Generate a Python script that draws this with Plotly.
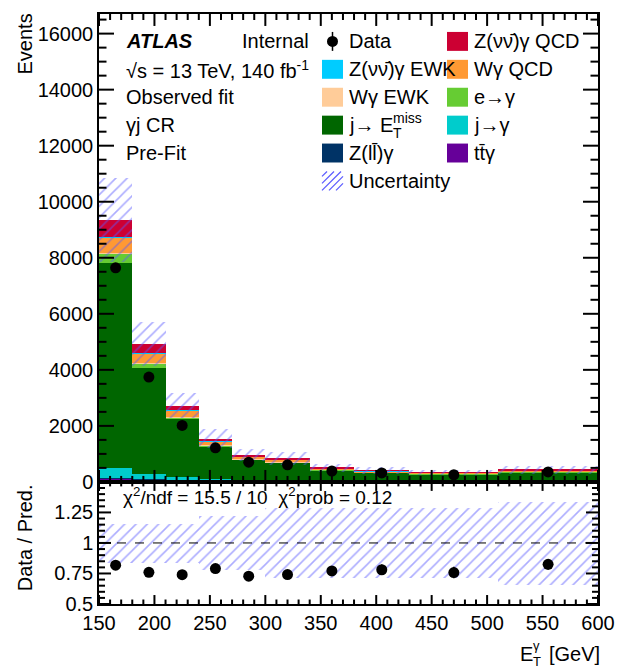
import plotly.graph_objects as go

# ---------------- data ----------------
bin_edges = [150, 180, 210, 240, 270, 300, 340, 380, 430, 510, 600]
ttgamma = [110, 70, 40, 25, 15, 14, 10, 8, 8, 9]
zll_gamma = [40, 20, 12, 8, 5, 4, 3, 2, 2, 2]
j_to_gamma = [340, 200, 120, 56, 30, 25, 15, 10, 8, 8]
j_to_met = [7320, 3770, 2070, 1163, 742, 642, 386, 316, 259, 332]
e_to_gamma = [335, 155, 72, 40, 25, 20, 13, 10, 8, 9]
wg_ewk = [40, 25, 15, 10, 8, 7, 5, 4, 4, 6]
wg_qcd = [550, 355, 223, 154, 84, 70, 45, 38, 32, 45]
znn_ewk = [20, 10, 7, 5, 3, 3, 3, 2, 2, 3]
znn_qcd = [590, 320, 165, 77, 57, 41, 26, 20, 15, 20]
data = [7640, 3740, 2015, 1215, 705, 612, 390, 320, 256, 358]
data_err = [87, 61, 45, 35, 27, 25, 20, 18, 16, 19]
rel_unc = [0.16, 0.16, 0.16, 0.22, 0.22, 0.29, 0.29, 0.29, 0.29, 0.34]

main_yticks = [0, 2000, 4000, 6000, 8000, 10000, 12000, 14000, 16000]
main_yticktext = ["0", "2000", "4000", "6000", "8000", "10000", "12000", "14000", "16000"]
ratio_yticks = [0.5, 0.75, 1, 1.25]
ratio_yticktext = ["0.5", "0.75", "1", "1.25"]
xticks = [150, 200, 250, 300, 350, 400, 450, 500, 550, 600]
xticktext = ["150", "200", "250", "300", "350", "400", "450", "500", "550", "600"]

FONT = "Liberation Sans, Arial, sans-serif"
W, H = 630, 671
L, R, T, B = 99, 598, 12, 604
SPLIT = 481.5
PW, PH = R - L, B - T
XMIN, XMAX = 150, 600
YMAIN_MAX = 16700
RMIN, RMAX = 0.5, 1.5

def px(x):
    return (x - L) / PW

def py(y):
    return (B - y) / PH

centers = [(a + b) / 2 for a, b in zip(bin_edges[:-1], bin_edges[1:])]
widths = [b - a for a, b in zip(bin_edges[:-1], bin_edges[1:])]

components = [
    ("tt̄γ", ttgamma, "#660099"),
    ("Z(ll̄)γ", zll_gamma, "#003366"),
    ("j→γ", j_to_gamma, "#00cccc"),
    ("j→ E_T^miss", j_to_met, "#006600"),
    ("e→γ", e_to_gamma, "#66cc33"),
    ("Wγ EWK", wg_ewk, "#ffcc99"),
    ("Wγ QCD", wg_qcd, "#ff9933"),
    ("Z(νν̄)γ EWK", znn_ewk, "#00ccff"),
    ("Z(νν̄)γ QCD", znn_qcd, "#cc0033"),
]

fig = go.Figure()
cum = [0.0] * len(centers)
for name, vals, color in components:
    fig.add_trace(go.Bar(
        x=centers, y=vals, base=list(cum), width=widths, name=name,
        marker=dict(color=color, line=dict(width=0)),
        xaxis="x", yaxis="y", showlegend=False))
    cum = [c + v for c, v in zip(cum, vals)]
total = cum

HATCH_COLOR = "#5a5aff"
hatch = dict(shape="/", fgcolor=HATCH_COLOR, size=8, solidity=0.2, fillmode="overlay")
fig.add_trace(go.Bar(
    x=centers, y=[2 * u * t for u, t in zip(rel_unc, total)],
    base=[t * (1 - u) for u, t in zip(rel_unc, total)], width=widths,
    marker=dict(color="rgba(0,0,0,0)", line=dict(width=0), pattern=hatch),
    xaxis="x", yaxis="y", showlegend=False, name="Uncertainty"))

fig.add_trace(go.Scatter(
    x=centers, y=data, mode="markers",
    marker=dict(color="black", size=11),
    error_y=dict(type="data", array=data_err, color="black", thickness=1.5, width=0),
    xaxis="x", yaxis="y", showlegend=False, name="Data"))

fig.add_trace(go.Bar(
    x=centers, y=[2 * u for u in rel_unc], base=[1 - u for u in rel_unc], width=widths,
    marker=dict(color="rgba(0,0,0,0)", line=dict(width=0), pattern=hatch),
    xaxis="x2", yaxis="y2", showlegend=False))
ratio = [d / t for d, t in zip(data, total)]
ratio_err = [e / t for e, t in zip(data_err, total)]
fig.add_trace(go.Scatter(
    x=centers, y=ratio, mode="markers",
    marker=dict(color="black", size=11),
    error_y=dict(type="data", array=ratio_err, color="black", thickness=1.5, width=0),
    xaxis="x2", yaxis="y2", showlegend=False))

split_frac = (B - SPLIT) / PH
main_h_px = (1 - split_frac) * PH
ratio_h_px = split_frac * PH

# ---------- tick marks drawn as a line trace per panel (axis decoration) ----------
x_minor = [v for v in range(150, 601, 10) if v % 50 != 0]
main_y_minor = [v for v in range(0, 16701, 500) if v % 2000 != 0]
ratio_y_minor = [round(0.5 + 0.05 * i, 2) for i in range(21) if i % 5 != 0]
ratio_y_major = [0.5, 0.75, 1.0, 1.25, 1.5]

def tick_trace(ymin, ymax, hpx, ymaj, ymin_list, ylen, xlen, xaxis, yaxis):
    dxp = (XMAX - XMIN) / PW
    dyp = (ymax - ymin) / hpx
    xs, ys = [], []
    for vals, ln in ((ymaj, ylen[0]), (ymin_list, ylen[1])):
        for v in vals:
            xs += [XMIN, XMIN + ln * dxp, None, XMAX, XMAX - ln * dxp, None]
            ys += [v, v, None, v, v, None]
    for vals, ln in ((xticks, xlen[0]), (x_minor, xlen[1])):
        for v in vals:
            xs += [v, v, None, v, v, None]
            ys += [ymin, ymin + ln * dyp, None, ymax, ymax - ln * dyp, None]
    fig.add_trace(go.Scatter(x=xs, y=ys, mode="lines", line=dict(color="black", width=2),
                             connectgaps=False, hoverinfo="skip", showlegend=False,
                             xaxis=xaxis, yaxis=yaxis, cliponaxis=False))

tick_trace(0, YMAIN_MAX, main_h_px, main_yticks, main_y_minor, (15, 7.5), (12, 6), "x", "y")
tick_trace(RMIN, RMAX, ratio_h_px, ratio_y_major, ratio_y_minor, (12, 6), (9, 4.5), "x2", "y2")

shapes = []
annotations = []

shapes.append(dict(type="line", xref="x2", yref="y2", x0=150, x1=600, y0=1, y1=1,
                   line=dict(color="black", width=1, dash="dash"), layer="above"))

def text(x, y, s, size=20, anchor="left", color="black", angle=0, yanchor="middle"):
    annotations.append(dict(x=px(x), y=py(y), xref="paper", yref="paper", text=s,
                            showarrow=False, xanchor=anchor, yanchor=yanchor,
                            textangle=angle,
                            font=dict(family=FONT, size=size, color=color)))

rows = [39.5, 67.5, 95.5, 123.5, 151.5, 179.5]
text(124, rows[0], "<b><i>ATLAS</i></b>")
text(240, rows[0], "Internal")
text(124, rows[1], "√s = 13 TeV, 140 fb<sup>-1</sup>")
text(124, rows[2], "Observed fit")
text(124, rows[3], "γj CR")
text(124, rows[4], "Pre-Fit")

def box(x0, yc, color):
    shapes.append(dict(type="rect", xref="paper", yref="paper",
                       x0=px(x0), x1=px(x0 + 21), y0=py(yc + 9.5), y1=py(yc - 9.5),
                       fillcolor=color, line=dict(width=0), layer="above"))

colors = {n: c for n, _, c in components}
lx, rx = 322, 447
shapes.append(dict(type="line", xref="paper", yref="paper", x0=px(332.5), x1=px(332.5),
                   y0=py(rows[0] - 9.5), y1=py(rows[0] + 9.5), line=dict(color="black", width=1.5)))
shapes.append(dict(type="circle", xref="paper", yref="paper", x0=px(327), x1=px(338),
                   y0=py(rows[0] + 5.5), y1=py(rows[0] - 5.5), fillcolor="black",
                   line=dict(width=0)))
text(347, rows[0], "Data")
box(rx, rows[0], colors["Z(νν̄)γ QCD"]); text(472, rows[0], "Z(νν̄)γ QCD")
text(347, rows[1], "Z(νν̄)γ EWK")
box(lx, rows[1], colors["Z(νν̄)γ EWK"])
box(rx, rows[1], colors["Wγ QCD"]); text(472, rows[1], "Wγ QCD")
box(lx, rows[2], colors["Wγ EWK"]); text(347, rows[2], "Wγ EWK")
box(rx, rows[2], colors["e→γ"]); text(472, rows[2], "e→γ")
box(lx, rows[3], colors["j→ E_T^miss"]); text(347, rows[3], "j→ E")
text(391, rows[3] - 7, "miss", size=14)
text(391, rows[3] + 8, "T", size=14)
box(rx, rows[3], colors["j→γ"]); text(472, rows[3], "j→γ")
box(lx, rows[4], colors["Z(ll̄)γ"]); text(347, rows[4], "Z(ll̄)γ")
box(rx, rows[4], colors["tt̄γ"]); text(472, rows[4], "tt̄γ")
x0, x1b = lx, lx + 21
ybot, ytop = rows[5] + 9.5, rows[5] - 9.5
hgt = ybot - ytop
for s in [-14, -7, 0, 7, 14]:
    t0 = max(0, -s)
    t1 = min(hgt, (x1b - x0) - s)
    if t1 > t0:
        shapes.append(dict(type="line", xref="paper", yref="paper",
                           x0=px(x0 + s + t0), y0=py(ybot - t0),
                           x1=px(x0 + s + t1), y1=py(ybot - t1),
                           line=dict(color=HATCH_COLOR, width=1.2)))
text(347, rows[5], "Uncertainty")

text(121, 496, "χ<sup>2</sup>/ndf = 15.5 / 10 &nbsp;χ<sup>2</sup>prob = 0.12", size=19)

text(25, 10, "Events", angle=-90, anchor="center", yanchor="top")
text(25, 538, "Data / Pred.", angle=-90, anchor="center")
text(518, 654, "E")
text(531, 646, "γ", size=13)
text(531, 662, "T", size=13)
text(547, 654, "[GeV]")

def axis(**kw):
    d = dict(showline=True, linecolor="black", linewidth=1.5, mirror=True,
             ticks="", showgrid=False, zeroline=False,
             tickfont=dict(family=FONT, size=20, color="black"))
    d.update(kw)
    return d

fig.update_layout(
    width=W, height=H,
    margin=dict(l=L, r=W - R, t=T, b=H - B, pad=0),
    paper_bgcolor="white", plot_bgcolor="white",
    barmode="overlay", bargap=0, showlegend=False,
    font=dict(family=FONT, size=20, color="black"),
    xaxis=axis(domain=[0, 1], anchor="y", range=[XMIN, XMAX], showticklabels=False,
               tickmode="array", tickvals=xticks, ticktext=xticktext),
    xaxis2=axis(domain=[0, 1], anchor="y2", range=[XMIN, XMAX], matches="x",
                tickmode="array", tickvals=xticks, ticktext=xticktext),
    yaxis=axis(domain=[split_frac, 1], anchor="x", range=[0, YMAIN_MAX],
               tickmode="array", tickvals=main_yticks, ticktext=main_yticktext),
    yaxis2=axis(domain=[0, split_frac], anchor="x2", range=[RMIN, RMAX],
                tickmode="array", tickvals=ratio_yticks, ticktext=ratio_yticktext),
    shapes=shapes, annotations=annotations,
)

fig.write_html("out.html")
